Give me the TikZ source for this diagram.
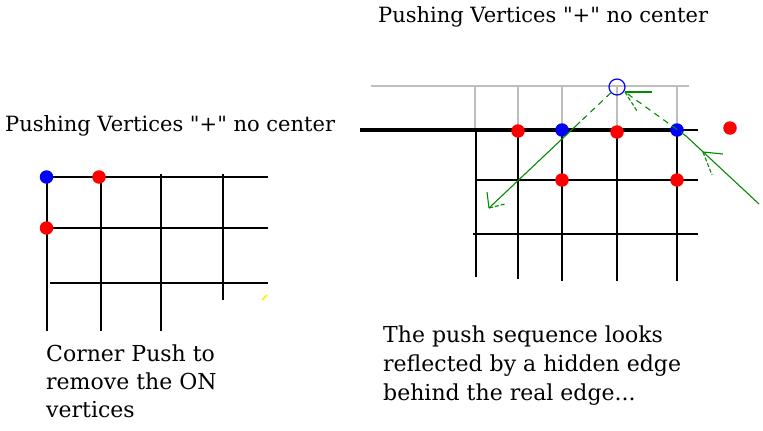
\documentclass[tikz,border=0pt]{standalone}
\usepackage{fontspec}
\setmainfont{DejaVu Serif}[Ligatures=TeXOff]
\usetikzlibrary{calc}
\definecolor{dotred}{RGB}{255,0,0}
\definecolor{dotblue}{RGB}{0,0,255}
\definecolor{arrgreen}{RGB}{0,140,0}
\definecolor{ghost}{RGB}{190,190,190}
\tikzset{
  grid/.style={line width=2pt, black},
  thickedge/.style={line width=3.4pt, black},
  ghostline/.style={line width=1.6pt, ghost},
  reddot/.style={circle, fill=dotred, inner sep=0pt, minimum size=13.5pt},
  bluedot/.style={circle, fill=dotblue, inner sep=0pt, minimum size=13.5pt},
  opendot/.style={circle, draw=dotblue, line width=1.2pt, inner sep=0pt, minimum size=16pt},
  gline/.style={arrgreen, line width=1.1pt},
  gdash/.style={arrgreen, line width=1.1pt, dash pattern=on 6pt off 5pt},
  title/.style={font=\fontsize{21}{21}\selectfont, anchor=base west, inner sep=0pt},
  label/.style={font=\fontsize{22}{22}\selectfont, anchor=base west, inner sep=0pt},
}
\begin{document}
\begin{tikzpicture}[x=1pt,y=-1pt]
\useasboundingbox (0,0) rectangle (763,431);
% ---------- titles ----------
\node[title] (t1) at (378,23) {Pushing Vertices "+" no center};
\node[title] (t2) at (5,131) {Pushing Vertices "+" no center};
% ---------- left grid ----------
\draw[grid] (46,177) -- (268,177);
\draw[grid] (46,228) -- (268,228);
\draw[grid] (50,283) -- (268,283);
\draw[grid] (47,177) -- (47,331);
\draw[grid] (101,177) -- (101,331);
\draw[grid] (161,174) -- (161,331);
\draw[grid] (223,174) -- (223,300);
\draw[yellow, line width=1.5pt] (262,300) -- (267,295);
\node[bluedot] (lb) at (46.5,177) {};
\node[reddot] (lr1) at (99,177) {};
\node[reddot] (lr2) at (46.5,228) {};
% ---------- right grid ----------
\draw[ghostline] (371,86) -- (689,86);
\foreach \x in {475,518,562,617,677} \draw[ghostline] (\x,86) -- (\x,130);
\draw[thickedge] (360,130) -- (677,130);
\draw[grid] (677,130) -- (698,130);
\draw[grid] (476,180) -- (698,180);
\draw[grid] (473,234) -- (698,234);
\draw[grid] (476,130) -- (476,277);
\draw[grid] (518,130) -- (518,279);
\draw[grid] (562,130) -- (562,281);
\draw[grid] (617,130) -- (617,281);
\draw[grid] (677,130) -- (677,281);
\node[reddot] (r1) at (518,131) {};
\node[bluedot] (b1) at (562,130) {};
\node[reddot] (r2) at (617,132) {};
\node[bluedot] (b2) at (677,130) {};
\node[reddot] (r3) at (562,180) {};
\node[reddot] (r4) at (677,180) {};
\node[reddot] (r5) at (730,128) {};
\node[opendot] (oc) at (617,87) {};
% ---------- green arrows ----------
\coordinate (a1m) at (580,122);
\coordinate (a1t) at (489,208);
\coordinate (a1l) at (487,192);
\coordinate (a1r) at (505,204);
\draw[gdash] (oc) -- (a1m);
\draw[gline] (a1m) -- (a1t);
\draw[gline] (a1t) -- (a1l);
\draw[gdash, dash pattern=on 4pt off 2pt] (a1t) -- (a1r);
\coordinate (a2s) at (759,204);
\coordinate (a2m) at (686,136);
\coordinate (a2h) at (625,92);
\coordinate (a2mh) at (703,152);
\draw[gline] (a2s) -- (a2m);
\draw[gdash] (a2m) -- (a2h);
\draw[gline] (a2mh) -- (723,154);
\draw[gdash, dash pattern=on 4pt off 2pt] (a2mh) -- (712,175);
\draw[gline] (a2h) -- (652,92);
\draw[gdash, dash pattern=on 4pt off 2pt] (a2h) -- (637,111);
% ---------- captions ----------
\node[label] (c1) at (46,361) {Corner Push to};
\node[label] (c2) at (46,389) {remove the ON};
\node[label] (c3) at (46,417) {vertices};
\node[label] (d1) at (383,342) {The push sequence looks};
\node[label] (d2) at (383,371) {reflected by a hidden edge};
\node[label] (d3) at (383,400) {behind the real edge...};
\end{tikzpicture}
\end{document}
